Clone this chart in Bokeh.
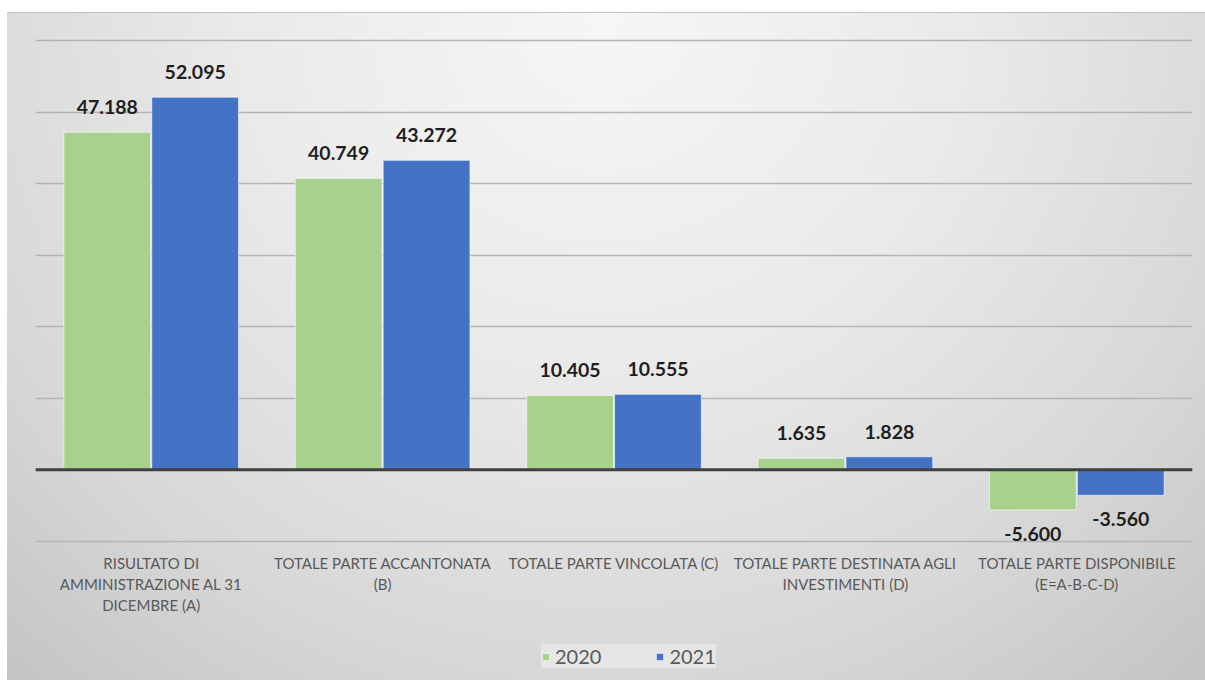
from bokeh.plotting import figure
from bokeh.models import Range1d, FactorRange, Span, Legend, LegendItem, ColumnDataSource, FixedTicker
from bokeh.transform import dodge
from bokeh.core.properties import value
from bokeh.embed import file_html
from bokeh.resources import INLINE

# ---- data ----
categories = [
    "RISULTATO DI\nAMMINISTRAZIONE AL 31\nDICEMBRE (A)",
    "TOTALE PARTE ACCANTONATA\n(B)",
    "TOTALE PARTE VINCOLATA (C)",
    "TOTALE PARTE DESTINATA AGLI\nINVESTIMENTI (D)",
    "TOTALE PARTE DISPONIBILE\n(E=A-B-C-D)",
]
series_names = ["2020", "2021"]
values_2020 = [47188, 40749, 10405, 1635, -5600]
values_2021 = [52095, 43272, 10555, 1828, -3560]
y_ticks = [-10000, 0, 10000, 20000, 30000, 40000, 50000, 60000]

colors = ["#a9d18e", "#4472c4"]
offsets = [-0.19, 0.19]


def fmt(v):
    return f"{v:,}".replace(",", ".")


# the frame extends down to the bottom so that category labels and legend live inside it
p = figure(
    width=1205, height=680,
    x_range=FactorRange(*categories, range_padding=0),
    y_range=Range1d(-29450, y_ticks[-1] + 300),
    output_backend="svg", toolbar_location=None,
    x_axis_location=None, y_axis_location=None,
    min_border_left=35, min_border_right=13, min_border_top=38, min_border_bottom=0,
)
p.background_fill_alpha = 0
p.border_fill_alpha = 0
p.outline_line_color = None
p.styles = {
    "background": (
        "linear-gradient(#ffffff,#ffffff) 0 0 / 100% 12px no-repeat, "
        "linear-gradient(#ffffff,#ffffff) 0 0 / 7px 100% no-repeat, "
        "linear-gradient(#c0c0c0,#c0c0c0) 0 12px / 100% 1px no-repeat, "
        "radial-gradient(ellipse 75% 130% at 50% 2%, #f6f6f6 0%, #eaeaea 40%, #d7d7d7 75%, #c4c4c4 100%)"
    )
}

p.xgrid.visible = False
p.ygrid.ticker = FixedTicker(ticks=y_ticks)
p.ygrid.grid_line_color = "#b4b4b4"
p.ygrid.grid_line_width = 1.5

# category labels under the lowest gridline
lab_src = ColumnDataSource(dict(cat=categories, y=[y_ticks[0]] * len(categories)))
p.text(x="cat", y="y", text="cat", source=lab_src, text_align="center", text_baseline="top",
       y_offset=13, text_font=value("Lato"), text_font_size="15px", text_color="#595959",
       text_line_height=1.15)

renderers = []
for name, vals, col, off in zip(series_names, [values_2020, values_2021], colors, offsets):
    src = ColumnDataSource(dict(cat=categories, val=vals))
    r = p.vbar(x=dodge("cat", off, range=p.x_range), top="val", bottom=0, width=0.375,
               source=src, fill_color=col, line_color="white", line_alpha=0.6, line_width=1)
    renderers.append(r)
    pos = ColumnDataSource(dict(cat=[c for c, v in zip(categories, vals) if v >= 0],
                                val=[v for v in vals if v >= 0],
                                txt=[fmt(v) for v in vals if v >= 0]))
    neg = ColumnDataSource(dict(cat=[c for c, v in zip(categories, vals) if v < 0],
                                val=[v for v in vals if v < 0],
                                txt=[fmt(v) for v in vals if v < 0]))
    for s, yo in [(pos, -25), (neg, 24)]:
        p.text(x=dodge("cat", off, range=p.x_range), y="val", text="txt", source=s,
               text_align="center", text_baseline="alphabetic", y_offset=yo,
               text_font=value("Lato"), text_font_style="bold", text_font_size="19.5px",
               text_color="#1f1f1f")

p.add_layout(Span(location=0, dimension="width", line_color="#404040", line_width=3))

legend = Legend(
    items=[LegendItem(label=n, renderers=[r]) for n, r in zip(series_names, renderers)],
    orientation="horizontal", location=(506, 12), margin=0,
    glyph_width=9, glyph_height=9, label_height=19, label_standoff=5, spacing=54, padding=10,
    label_text_font="Lato", label_text_font_size="20px", label_text_color="#595959",
    background_fill_color="#e6e6e6", background_fill_alpha=1.0, border_line_color=None,
)
p.add_layout(legend)

open("out.html", "w").write(file_html(p, INLINE))
